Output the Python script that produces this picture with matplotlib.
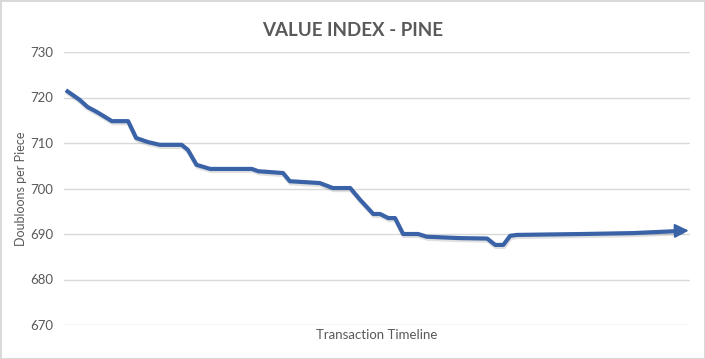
import matplotlib
matplotlib.use('Agg')
import matplotlib.pyplot as plt
import matplotlib.patheffects as pe

# transaction index (position along the timeline) and price
transaction = [0, 2.2, 3.5, 5, 7.4, 10, 11.3, 13.2, 15.1, 18.6, 19.6, 21, 23.2,
               29.9, 30.9, 34.9, 36, 40.8, 42.9, 45.7, 47.3, 49.4, 50.5, 51.8,
               52.9, 54.2, 56.6, 58, 63.3, 67.7, 69, 70.3, 71.4, 72.5, 83.1,
               91.2, 96, 99.2]
price = [721.6, 719.5, 717.9, 716.8, 714.8, 714.8, 711.1, 710.2, 709.6, 709.6,
         708.5, 705.2, 704.3, 704.3, 703.8, 703.4, 701.6, 701.2, 700.1, 700.1,
         697.5, 694.4, 694.4, 693.5, 693.5, 690.0, 690.0, 689.4, 689.1, 689.0,
         687.6, 687.6, 689.6, 689.8, 690.0, 690.2, 690.5, 690.7]
yticks = [670, 680, 690, 700, 710, 720, 730]

plt.rcParams['font.family'] = ['Lato', 'DejaVu Sans']
grey = '#595959'
blue = '#3A62A7'

fig = plt.figure(figsize=(7.05, 3.59), dpi=100, edgecolor='#d9d9d9', linewidth=2)
ax = fig.add_axes([64 / 705, 34 / 359, 626 / 705, 273 / 359])

shadow = [pe.SimpleLineShadow(offset=(0.5, -1.5), alpha=0.12, shadow_color='k'), pe.Normal()]
ax.plot(transaction, price, color=blue, lw=3, solid_joinstyle='round',
        solid_capstyle='butt', path_effects=shadow)
ax.annotate('', xy=(transaction[-1] + 0.9, price[-1] + 0.05),
            xytext=(transaction[-1] - 0.8, price[-1]),
            annotation_clip=False,
            arrowprops=dict(arrowstyle='-|>,head_length=0.6,head_width=0.3',
                            color=blue, lw=1.5, mutation_scale=14,
                            shrinkA=0, shrinkB=0))

ax.set_xlim(-0.3, 100.3)
ax.set_ylim(670, 730)
ax.set_yticks(yticks)
ax.set_xticks([])
ax.grid(axis='y', color='#d9d9d9', lw=1)
ax.set_axisbelow(True)
for s in ax.spines.values():
    s.set_visible(False)
ax.tick_params(axis='y', length=0, pad=8, labelsize=9.5, labelcolor=grey)

ax.set_ylabel('Doubloons per Piece', fontsize=9, color=grey, labelpad=2)
ax.set_xlabel('Transaction Timeline', fontsize=9.5, color=grey, labelpad=3)
fig.text(0.5, 0.915, 'VALUE INDEX - PINE', ha='center', va='center',
         fontsize=13.5, fontweight='bold', color=grey)

fig.savefig('out.png', dpi=100)
